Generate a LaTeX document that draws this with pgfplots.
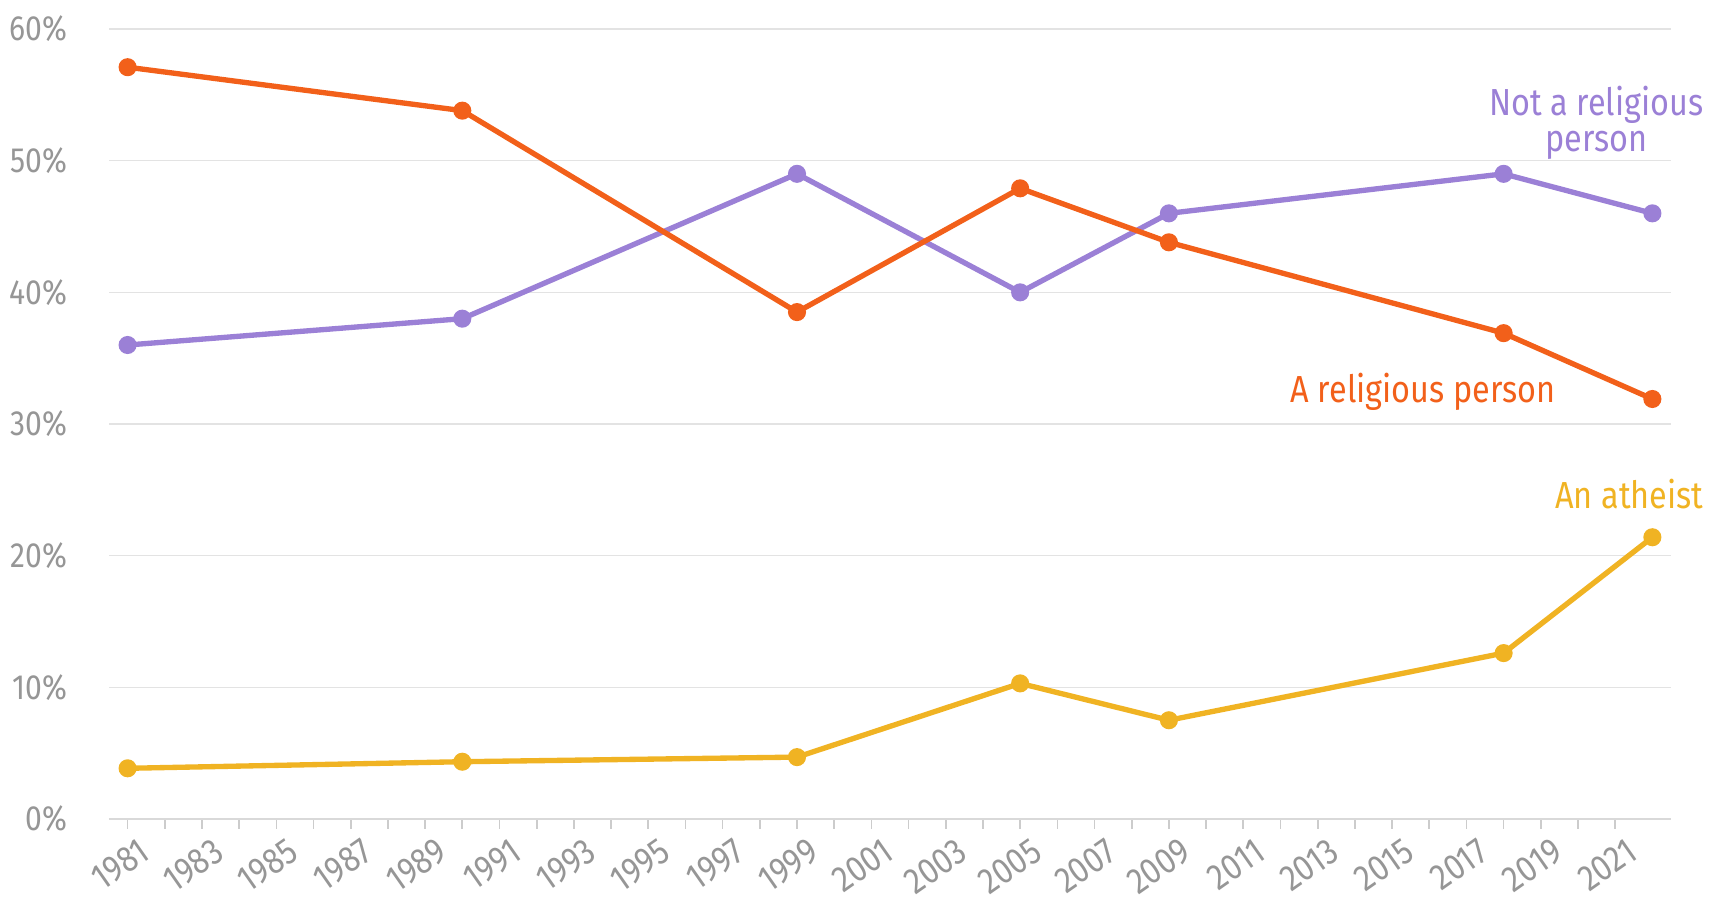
\documentclass[border=0pt]{standalone}
\usepackage{fontspec}
\setmainfont{Fira Sans}[FakeStretch=0.86]
\usepackage{pgfplots}
\pgfplotsset{compat=1.18}
\definecolor{relig}{HTML}{F2601A}
\definecolor{notrel}{HTML}{9B80D6}
\definecolor{athe}{HTML}{F0B323}
\definecolor{ticktext}{HTML}{969696}
\newcommand{\lblfont}{\fontsize{10.5}{12}\selectfont}
\newcommand{\xlblfont}{\fontsize{11}{12}\selectfont}
\newcommand{\serfont}{\fontsize{11.3}{13}\selectfont}
\begin{document}
\begin{tikzpicture}[x=1pt,y=1pt]
\useasboundingbox (-32.7,-27.3) rectangle (482.1,245.7);
\begin{axis}[
  at={(0,0)}, anchor=south west,
  scale only axis, width=468.6pt, height=237pt,
  xmin=1980.5, xmax=2022.5, ymin=0, ymax=60,
  clip=false,
  axis x line*=bottom, axis y line*=left,
  x axis line style={-, color=black!15, line width=0.5pt},
  y axis line style={draw=none},
  xtick={1981,1983,...,2021}, minor x tick num=1,
  ytick={0,10,...,60},
  yticklabels={0\%,10\%,20\%,30\%,40\%,50\%,60\%},
  ytick style={draw=none},
  xtick style={color=black!20, line width=0.5pt},
  major tick length=2.9pt, minor tick length=2.9pt,
  tick align=outside,
  ymajorgrids, grid style={color=black!11, line width=0.45pt},
  /pgf/number format/1000 sep={},
  /pgf/number format/assume math mode=true,
  tick label style={font=\lblfont, text=ticktext},
  yticklabel style={anchor=east, xshift=-6pt},
  xticklabel style={font=\xlblfont, rotate=35, anchor=north east, inner sep=0pt, xshift=1.2pt, yshift=-3.5pt},
]
\addplot[color=notrel, line width=1.6pt, mark=*, mark size=1.9pt] coordinates {
  (1981,36.0) (1990,38.0) (1999,49.0) (2005,40.0) (2009,46.0) (2018,49.0) (2022,46.0)};
\addplot[color=relig, line width=1.6pt, mark=*, mark size=1.9pt] coordinates {
  (1981,57.1) (1990,53.8) (1999,38.5) (2005,47.9) (2009,43.8) (2018,36.9) (2022,31.9)};
\addplot[color=athe, line width=1.6pt, mark=*, mark size=1.9pt] coordinates {
  (1981,3.85) (1990,4.35) (1999,4.7) (2005,10.3) (2009,7.5) (2018,12.6) (2022,21.4)};
\node[font=\serfont, text=notrel, anchor=base east, inner sep=0pt] (nr) at (axis cs:2023.39,53.45) {Not a religious};
\node[font=\serfont, text=notrel, anchor=base, inner sep=0pt] at ([yshift=-10.8pt]nr.base) {person};
\node[font=\serfont, text=relig, anchor=base, inner sep=0pt] at (axis cs:2015.83,31.65) {A religious person};
\node[font=\serfont, text=athe, anchor=base east, inner sep=0pt] at (axis cs:2023.39,23.55) {An atheist};
\end{axis}
\end{tikzpicture}
\end{document}
